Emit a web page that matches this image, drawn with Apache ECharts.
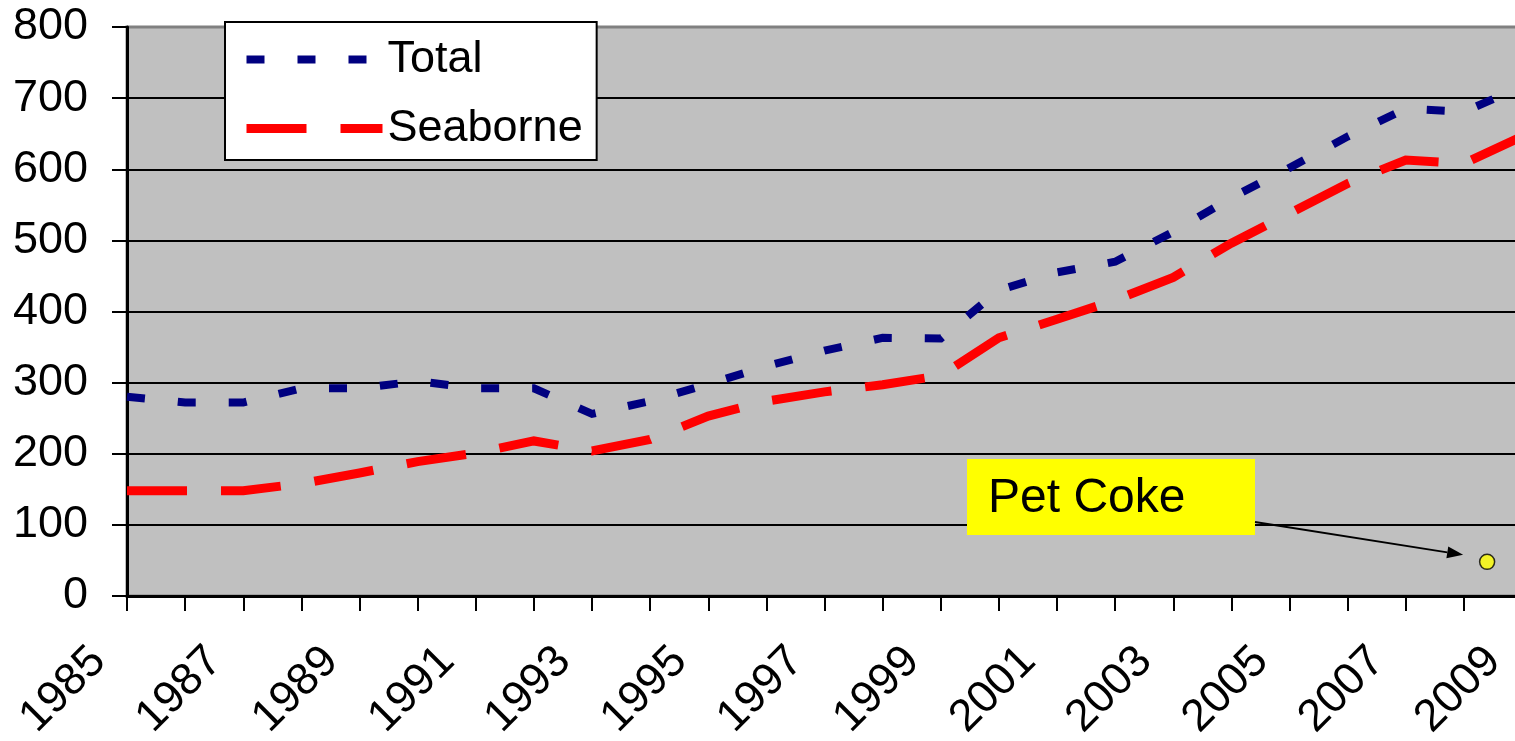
<!DOCTYPE html>
<html>
<head>
<meta charset="utf-8">
<script src="https://cdn.jsdelivr.net/npm/echarts@6/dist/echarts.min.js"></script>
<style>
  html, body { margin: 0; padding: 0; background: #ffffff; }
  #chart { width: 1515px; height: 741px; }
</style>
</head>
<body>
<div id="chart"></div>
<script>
// Annual volumes, 1985-2009
const years = [1985, 1986, 1987, 1988, 1989, 1990, 1991, 1992, 1993, 1994, 1995, 1996,
               1997, 1998, 1999, 2000, 2001, 2002, 2003, 2004, 2005, 2006, 2007, 2008, 2009];
const total = [280, 272, 272, 292, 292, 302, 292, 292, 256, 274, 298, 323,
               345, 363, 362, 430, 455, 470, 512, 560, 602, 646, 685, 681, 716];
const seaborne = [148, 148, 148, 158, 173, 189, 201, 218, 204, 220, 253, 274,
                  287, 297, 310, 363, 389, 416, 448, 496, 538, 580, 613, 608, 646];
const petCoke = [[2008.4, 48]];
const yearLabels = ['1985', '1987', '1989', '1991', '1993', '1995', '1997',
                    '1999', '2001', '2003', '2005', '2007', '2009'];
const valueTicks = [0, 100, 200, 300, 400, 500, 600, 700, 800];
const calloutText = 'Pet Coke';

const FONT = '"Liberation Sans", Arial, sans-serif';

const chart = echarts.init(document.getElementById('chart'), null, { renderer: 'canvas' });

const pairs = (vals) => years.map((y, i) => [y, vals[i]]);

chart.setOption({
  animation: false,
  backgroundColor: '#ffffff',
  grid: {
    left: 127, top: 27, width: 1395, height: 569,
    outerBoundsMode: 'none',
    containLabel: false,
    show: true,
    backgroundColor: '#C0C0C0',
    borderColor: '#808080',
    borderWidth: 3
  },
  legend: {
    orient: 'vertical',
    left: 225, top: 22,
    padding: [15, 14, 9, 17],
    itemGap: 24,
    itemWidth: 136,
    itemHeight: 12,
    backgroundColor: '#ffffff',
    borderColor: '#000000',
    borderWidth: 2,
    borderRadius: 0,
    itemStyle: { opacity: 0 },
    textStyle: { fontFamily: FONT, fontSize: 45, color: '#000000' },
    data: [
      { name: 'Total', lineStyle: { width: 8 }, itemStyle: { opacity: 0 } },
      { name: 'Seaborne', lineStyle: { width: 9 }, itemStyle: { opacity: 0 } }
    ]
  },
  xAxis: {
    type: 'value',
    min: years[0],
    max: years[years.length - 1],
    interval: 1,
    splitLine: { show: false },
    axisLine: { show: true, onZero: false, lineStyle: { color: '#000000', width: 3 } },
    axisTick: { show: true, inside: false, length: 15, lineStyle: { color: '#000000', width: 2 } },
    axisLabel: {
      rotate: 45,
      margin: 30,
      padding: [0, 40, 0, 0],
      fontFamily: FONT,
      fontSize: 45,
      color: '#000000',
      showMinLabel: true,
      showMaxLabel: true,
      hideOverlap: false,
      formatter: (v) => (yearLabels.indexOf(String(v)) >= 0 ? String(v) : '')
    }
  },
  yAxis: {
    type: 'value',
    min: valueTicks[0],
    max: valueTicks[valueTicks.length - 1],
    interval: valueTicks[1] - valueTicks[0],
    axisLine: { show: true, lineStyle: { color: '#000000', width: 3 } },
    axisTick: { show: true, inside: false, length: 15, lineStyle: { color: '#000000', width: 2 } },
    splitLine: {
      show: true,
      lineStyle: {
        width: 2,
        color: ['#000000', '#000000', '#000000', '#000000', '#000000',
                '#000000', '#000000', '#000000', '#808080']
      }
    },
    axisLabel: {
      margin: 39,
      fontFamily: FONT,
      fontSize: 45,
      color: '#000000'
    }
  },
  series: [
    {
      name: 'Total',
      type: 'line',
      data: pairs(total),
      symbol: 'none',
      color: '#000080',
      lineStyle: { color: '#000080', width: 8, type: [18, 33], cap: 'butt', join: 'miter' },
      z: 3
    },
    {
      name: 'Seaborne',
      type: 'line',
      data: pairs(seaborne),
      symbol: 'none',
      color: '#FF0000',
      lineStyle: { color: '#FF0000', width: 9, type: [60, 34], cap: 'butt', join: 'miter' },
      z: 2
    },
    {
      name: calloutText,
      type: 'scatter',
      data: petCoke,
      symbol: 'circle',
      symbolSize: 15,
      itemStyle: { color: '#FFFF00', borderColor: '#000000', borderWidth: 1.5 },
      z: 4
    }
  ]
});

// Callout box with an arrow pointing at the Pet Coke marker
const dot = chart.convertToPixel({ gridIndex: 0 }, petCoke[0]);
const boxX = 967, boxY = 459, boxW = 288, boxH = 76;
const start = [boxX + boxW, 522];
const tip = [dot[0] - 24, dot[1] - 7];
const dx = tip[0] - start[0], dy = tip[1] - start[1];
const len = Math.sqrt(dx * dx + dy * dy);
const ux = dx / len, uy = dy / len;
const headLen = 16, headHalf = 6;
const base = [tip[0] - ux * headLen, tip[1] - uy * headLen];

chart.setOption({
  graphic: [
    {
      type: 'rect', z: 100,
      shape: { x: boxX, y: boxY, width: boxW, height: boxH },
      style: { fill: '#FFFF00' }
    },
    {
      type: 'text', z: 101,
      x: 988, y: 499,
      style: {
        text: calloutText, fontFamily: FONT, fontSize: 48, fill: '#000000',
        textAlign: 'left', textVerticalAlign: 'middle'
      }
    },
    {
      type: 'line', z: 100,
      shape: { x1: start[0], y1: start[1], x2: base[0], y2: base[1] },
      style: { stroke: '#000000', lineWidth: 2 }
    },
    {
      type: 'polygon', z: 100,
      shape: {
        points: [
          tip,
          [base[0] - uy * headHalf, base[1] + ux * headHalf],
          [base[0] + uy * headHalf, base[1] - ux * headHalf]
        ]
      },
      style: { fill: '#000000' }
    }
  ]
});
</script>
</body>
</html>
